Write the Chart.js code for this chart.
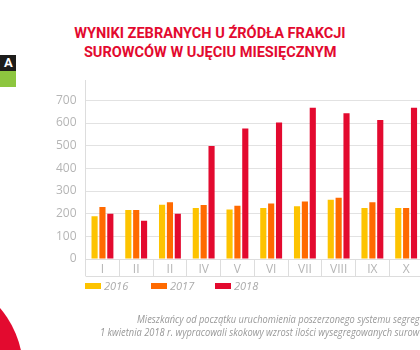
<!DOCTYPE html>
<html>
<head>
<meta charset="utf-8">
<script src="https://cdn.jsdelivr.net/npm/chart.js@4.4.0/dist/chart.umd.min.js"></script>
<style>
  html, body { margin: 0; padding: 0; width: 420px; height: 350px; overflow: hidden; background: #fff; position: relative; }
  .title { position: absolute; left: 0; width: 420px; top: 24px; text-align: center; color: #e30a2f; font: bold 15px Roboto, sans-serif; line-height: 19px; }
  .title span { display: inline-block; transform: scaleX(0.97); white-space: nowrap; }
  .tab { position: absolute; left: 0; top: 55px; width: 16px; height: 16px; background: #1d1d1b; color: #fff; font: bold 13px Roboto, sans-serif; line-height: 16px; text-indent: 4px; }
  .tab-green { position: absolute; left: 0; top: 71px; width: 16px; height: 16px; background: #8dc63f; }
  .blob { position: absolute; left: -167px; top: 275px; width: 190px; height: 190px; border-radius: 50%; background: #e30a2f; }
  #wrap { position: absolute; left: 0; top: 60px; width: 430px; height: 220px; }
  #legend { position: absolute; left: 85px; top: 279px; font: italic 11px "Open Sans", sans-serif; color: #aaa; }
  #legend .item { position: absolute; top: 0; white-space: nowrap; line-height: 13px; }
  #legend .box { display: inline-block; width: 16px; height: 6px; margin-right: 3px; vertical-align: 1px; }
  .note { position: absolute; white-space: nowrap; font: italic 10px "Open Sans", sans-serif; color: #999; transform-origin: left center; transform: scaleX(0.93); }
</style>
</head>
<body>
<div class="title"><span>WYNIKI ZEBRANYCH U ŹRÓDŁA FRAKCJI</span><br><span>SUROWCÓW W UJĘCIU MIESIĘCZNYM</span></div>
<div class="tab">A</div>
<div class="tab-green"></div>
<div class="blob"></div>
<div id="wrap"><canvas id="chart"></canvas></div>
<div id="legend"></div>
<div class="note" style="left:137px;top:312px">Mieszkańcy od początku uruchomienia poszerzonego systemu segregacji</div>
<div class="note" style="left:100px;top:325px">1 kwietnia 2018 r. wypracowali skokowy wzrost ilości wysegregowanych surowców.</div>
<script>
const months = ['I', 'II', 'II', 'IV', 'V', 'VI', 'VII', 'VIII', 'IX', 'X'];
const years = ['2016', '2017', '2018'];
const values2016 = [189, 216, 239, 225, 219, 225, 233, 261, 225, 225];
const values2017 = [230, 216, 250, 238, 235, 245, 254, 270, 251, 225];
const values2018 = [200, 169, 200, 499, 576, 602, 667, 643, 614, 667];
const yTicks = [0, 100, 200, 300, 400, 500, 600, 700];
const colors = ['#fdc300', '#ff6a00', '#e30a2f'];

const series = [values2016, values2017, values2018];

// bottom line of the month label box
const labelBoxLine = {
    id: 'labelBoxLine',
    afterDraw(chart) {
        const x = chart.scales.x;
        const ctx = chart.ctx;
        ctx.save();
        ctx.strokeStyle = '#dddddd';
        ctx.lineWidth = 1;
        ctx.beginPath();
        ctx.moveTo(x.left, x.top + 17.5);
        ctx.lineTo(x.right, x.top + 17.5);
        ctx.stroke();
        ctx.restore();
    }
};

new Chart(document.getElementById('chart'), {
    type: 'bar',
    data: {
        labels: months,
        datasets: years.map((y, i) => ({
            label: y,
            data: series[i],
            backgroundColor: colors[i],
            categoryPercentage: 0.7,
            barPercentage: 0.78
        }))
    },
    options: {
        responsive: true,
        maintainAspectRatio: false,
        animation: false,
        layout: { padding: { left: 47, right: 7, top: 20, bottom: 3 } },
        plugins: { legend: { display: false }, tooltip: { enabled: false } },
        scales: {
            x: {
                afterFit: scale => { scale.height = 18; },
                grid: { drawOnChartArea: false, drawTicks: true, tickLength: 17, color: '#dddddd' },
                border: { color: '#dddddd' },
                ticks: { padding: -14, autoSkip: false, maxRotation: 0, minRotation: 0, color: '#b5b5b5', font: { family: 'Open Sans', size: 12 } }
            },
            y: {
                min: 0,
                max: 790,
                afterBuildTicks: scale => { scale.ticks = yTicks.map(v => ({ value: v })); },
                ticks: {
                    padding: 9,
                    color: '#b5b5b5',
                    font: { family: 'Open Sans', size: 12 }
                },
                grid: { drawTicks: false, color: '#e2e2e2' },
                border: { color: '#dddddd' }
            }
        }
    },
    plugins: [labelBoxLine]
});

const legend = document.getElementById('legend');
const legendX = [0, 66, 130];
years.forEach((y, i) => {
    const item = document.createElement('div');
    item.className = 'item';
    item.style.left = legendX[i] + 'px';
    item.innerHTML = '<span class="box" style="background:' + colors[i] + '"></span>' + y;
    legend.appendChild(item);
});
</script>
</body>
</html>
